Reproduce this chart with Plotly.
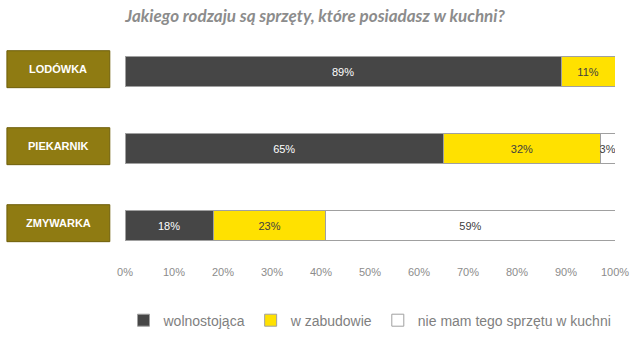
import plotly.graph_objects as go

categories = ["LODÓWKA", "PIEKARNIK", "ZMYWARKA"]
series_names = ["wolnostojąca", "w zabudowie", "nie mam tego sprzętu w kuchni"]
wolnostojaca = [89, 65, 18]
w_zabudowie = [11, 32, 23]
nie_mam = [0, 3, 59]
tick_vals = [0, 10, 20, 30, 40, 50, 60, 70, 80, 90, 100]
tick_text = [f"{v}%" for v in tick_vals]
title_text = "Jakiego rodzaju są sprzęty, które posiadasz w kuchni?"

colors = ["#464646", "#FFE100", "#FFFFFF"]
text_colors = ["#FFFFFF", "#404040", "#404040"]
values = [wolnostojaca, w_zabudowie, nie_mam]

ypos = list(range(len(categories)))

fig = go.Figure()
for name, vals, col, tcol in zip(series_names, values, colors, text_colors):
    fig.add_trace(go.Bar(
        y=ypos, x=vals, name=name, orientation="h",
        marker=dict(color=col, line=dict(color="#A0A0A0", width=1)),
        width=0.38,
        text=[f"{v}%" if v > 0 else "" for v in vals],
        textposition="inside", insidetextanchor="middle", textangle=0,
        textfont=dict(family="Liberation Sans, Arial", size=11, color=tcol),
        hoverinfo="skip",
    ))

shapes = []
annotations = []
box_color = "#8F7B12"
for i, cat in enumerate(categories):
    shapes.append(dict(type="rect", xref="paper", yref="y",
                       x0=-0.241, x1=-0.031, y0=i - 0.27, y1=i + 0.21,
                       fillcolor=box_color, line=dict(color="#6E5E08", width=1),
                       layer="above"))
    annotations.append(dict(xref="paper", yref="y", x=-0.136, y=i - 0.03,
                            xanchor="center", yanchor="middle",
                            text=f"<b>{cat}</b>", showarrow=False,
                            font=dict(family="Liberation Sans, Arial", size=11, color="#FFFFFF")))

fig.update_layout(
    width=643, height=349,
    margin=dict(l=125, r=28, t=33, b=85),
    paper_bgcolor="white", plot_bgcolor="white",
    barmode="stack",
    title=dict(text=f"<b><i>{title_text}</i></b>", xref="container", x=0.49, xanchor="center",
               y=0.955, yanchor="middle",
               font=dict(family="Lato, sans-serif", size=17, color="#8C8C8C", weight="bold")),
    xaxis=dict(range=[0, 100], tickvals=tick_vals, ticktext=tick_text, showgrid=False,
               zeroline=False, showline=False,
               tickfont=dict(family="Liberation Sans, Arial", size=11, color="#8C8C8C")),
    yaxis=dict(range=[2.5, -0.5], showticklabels=False, showgrid=False, zeroline=False,
               showline=False),
    legend=dict(orientation="h", x=0.5, xanchor="center", y=-0.245, yanchor="middle",
                font=dict(family="Liberation Sans, Arial", size=14, color="#7F7F7F"),
                itemwidth=30, traceorder="normal"),
    uniformtext=dict(minsize=11, mode="show"),
    shapes=shapes, annotations=annotations,
    showlegend=True,
)

fig.write_html("out.html")
